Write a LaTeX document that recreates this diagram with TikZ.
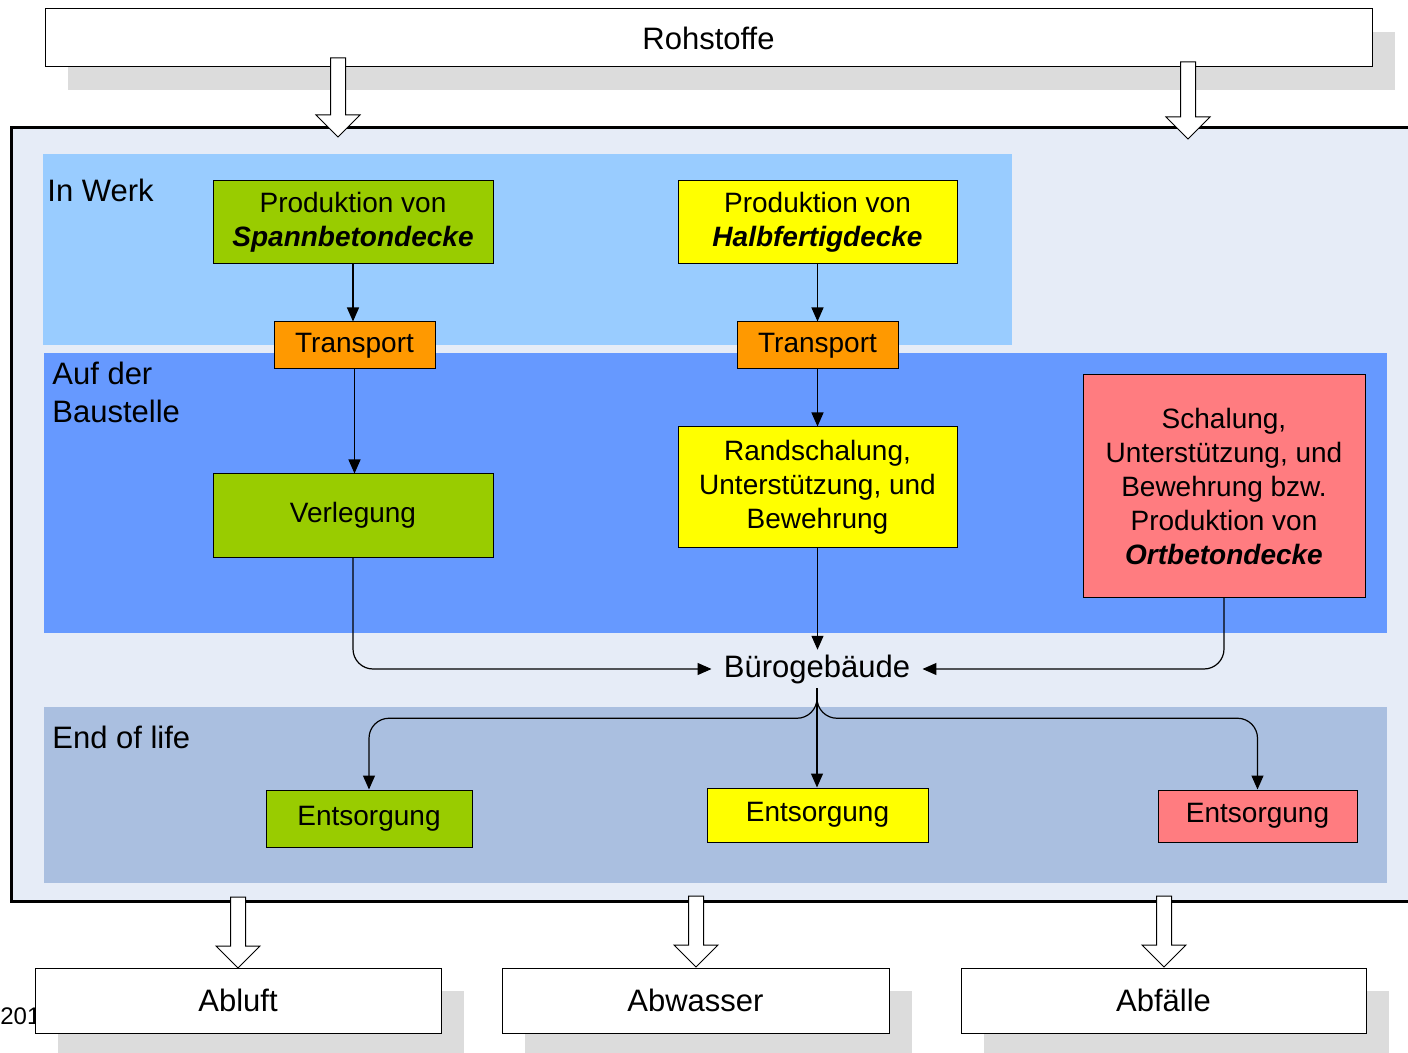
\documentclass[tikz,border=0pt]{standalone}
\usepackage{fontspec}
\setmainfont{Liberation Sans}
\usetikzlibrary{arrows.meta,shadows}
\definecolor{framefill}{HTML}{E6ECF7}
\definecolor{werkfill}{HTML}{99CCFF}
\definecolor{baufill}{HTML}{6699FF}
\definecolor{endfill}{HTML}{AABFE0}
\definecolor{cgreen}{HTML}{99CC00}
\definecolor{cyellow}{HTML}{FFFF00}
\definecolor{corange}{HTML}{FF9900}
\definecolor{cred}{HTML}{FF7C80}
\definecolor{shadowgrey}{HTML}{DCDCDC}
\newcommand\dfboxfont{\fontsize{14}{17}\selectfont}
\newcommand\dflabfont{\fontsize{15.5}{19}\selectfont}
\newcommand\dfhollow[3]{\draw[hollowarrow] (#1-7.5,#2) -- (#1+7.5,#2) -- (#1+7.5,#3-22) -- (#1+22,#3-22) -- (#1,#3) -- (#1-22,#3-22) -- (#1-7.5,#3-22) -- cycle;}
\begin{document}
\begin{tikzpicture}[x=0.5pt,y=-0.5pt,
  flowbox/.style={draw=black, line width=0.5pt, align=center, inner sep=0pt, font=\dfboxfont},
  iobox/.style={draw=black, line width=0.5pt, fill=white, inner sep=0pt, font=\dflabfont,
     general shadow={fill=shadowgrey, shadow xshift=11.5pt, shadow yshift=-11.5pt}},
  reglabel/.style={inner sep=0pt, font=\dflabfont, align=left},
  conn/.style={draw=black, line width=0.6pt, -{Triangle[width=6pt,length=7pt]}},
  hollowarrow/.style={draw=black, line width=0.5pt, fill=white, line join=miter}]
\useasboundingbox (0,0) rectangle (1408,1053);
\fill[white] (0,0) rectangle (1408,1053);

% outer frame and regions
\draw[line width=1.5pt, fill=framefill] (11,128) rectangle (1440,901);
\fill[werkfill] (43,154) rectangle (1012,345);
\fill[baufill] (44,353) rectangle (1387,633);
\fill[endfill] (44,707) rectangle (1387,883);

\node[reglabel, anchor=west] (lw) at (47,190) {In Werk};
\node[reglabel, anchor=west] (lb) at (52,392) {Auf der\\Baustelle};
\node[reglabel, anchor=west] (le) at (52,737) {End of life};

% top box
\node[iobox, minimum width=663.5pt, minimum height=29pt] (roh) at (708.5,38) {Rohstoffe};

% process boxes
\node[flowbox, fill=cgreen, minimum width=140pt, minimum height=41.5pt] (sb) at (353,222.5)
  {Produktion von\\\textbf{\textit{Spannbetondecke}}};
\node[flowbox, fill=cyellow, minimum width=139.5pt, minimum height=41.5pt] (hb) at (817.5,222.5)
  {Produktion von\\\textbf{\textit{Halbfertigdecke}}};
\node[flowbox, fill=corange, minimum width=80.5pt, minimum height=23.5pt] (t1) at (354.5,345.5) {Transport};
\node[flowbox, fill=corange, minimum width=80.5pt, minimum height=23.5pt] (t2) at (817.5,345.5) {Transport};
\node[flowbox, fill=cgreen, minimum width=140pt, minimum height=41.5pt] (v) at (353,515.5) {Verlegung};
\node[flowbox, fill=cyellow, minimum width=139.5pt, minimum height=60pt] (rs) at (817.5,487)
  {Randschalung,\\Unterstützung, und\\Bewehrung};
\node[flowbox, fill=cred, minimum width=141pt, minimum height=111pt] (od) at (1224,486)
  {Schalung,\\Unterstützung, und\\Bewehrung bzw.\\Produktion von\\\textbf{\textit{Ortbetondecke}}};
\node[inner xsep=6pt, inner ysep=2.2pt, font=\dflabfont] (bg) at (817,669) {Bürogebäude};
\node[flowbox, fill=cgreen, minimum width=103pt, minimum height=28.5pt] (e1) at (369,818.5) {Entsorgung};
\node[flowbox, fill=cyellow, minimum width=110.5pt, minimum height=27pt] (e2) at (817.5,815) {Entsorgung};
\node[flowbox, fill=cred, minimum width=99.5pt, minimum height=26pt] (e3) at (1257.5,816) {Entsorgung};

% connectors
\draw[conn] (sb.south) -- (sb.south |- t1.north);
\draw[conn] (t1.south) -- (t1.south |- v.north);
\draw[conn] (hb.south) -- (t2.north);
\draw[conn] (t2.south) -- (rs.north);
\draw[conn] (rs.south) -- (rs.south |- bg.north);
\draw[conn, rounded corners=10pt] (v.south) |- (bg.west);
\draw[conn, rounded corners=10pt] (od.south) |- (bg.east);
\draw[conn] (bg.south) -- (bg.south |- e2.north);
\draw[conn, rounded corners=10pt] (bg.south) -- ++(0,30) -| (e1.north);
\draw[conn, rounded corners=10pt] (bg.south) -- ++(0,30) -| (e3.north);

% bottom boxes
\node[anchor=west, inner sep=0pt, font=\fontsize{12}{14}\selectfont] (yr) at (0,1016) {201};
\node[iobox, minimum width=203pt, minimum height=32.5pt] (ab) at (238,1000.5) {Abluft};
\node[iobox, minimum width=193.5pt, minimum height=32.5pt] (aw) at (695.5,1000.5) {Abwasser};
\node[iobox, minimum width=202.5pt, minimum height=32.5pt] (af) at (1163.5,1000.5) {Abfälle};

% hollow block arrows
\dfhollow{338}{58}{137}
\dfhollow{1188}{62}{139}
\dfhollow{238}{897}{968}
\dfhollow{696}{896}{967}
\dfhollow{1164}{896}{967}
\end{tikzpicture}
\end{document}
